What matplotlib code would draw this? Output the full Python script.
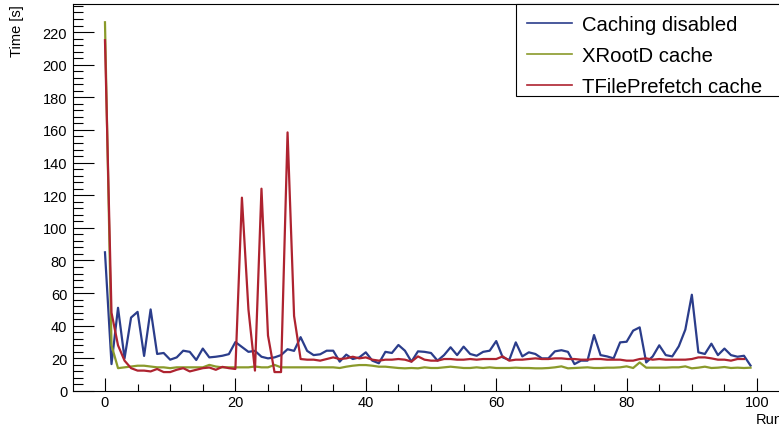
import matplotlib
matplotlib.use("Agg")
import matplotlib.pyplot as plt
from matplotlib.ticker import MultipleLocator
from matplotlib.patches import Rectangle

plt.rcParams['font.family'] = ['Liberation Sans', 'DejaVu Sans']

# time per run [s]
no_cache = [85, 16.5, 51, 20, 45, 48.5, 21.5, 50, 22.7, 23.3,
            19.2, 20.6, 24.7, 24, 19, 26, 20.6, 21, 21.6, 22.6,
            30, 27, 24, 24.6, 21, 20, 20.6, 22, 25.6, 24.6,
            33, 24.6, 22, 22.5, 24.7, 24.7, 18, 22.3, 19.6, 20.6,
            23.7, 18.6, 17, 24, 23.3, 28.2, 24.7, 18, 24.3, 24,
            23.3, 18.6, 22, 26.8, 22, 27.2, 22.7, 21.6, 24, 24.7,
            30.6, 20.6, 19, 29.8, 21.2, 23.7, 22.7, 20, 20, 24.3,
            25, 24, 16.5, 18.6, 18.6, 34.3, 22, 21.2, 20, 29.8,
            30.2, 37, 39, 17.5, 21.2, 28, 22, 21.2, 27.4, 37.6,
            59, 23.7, 22.7, 29, 22, 26, 22, 21, 21.6, 15.6]

xrootd = [226, 28, 14, 14.5, 15, 15.5, 15.5, 15, 14.5, 14.5,
          14, 14.5, 14.5, 14.5, 14.5, 14.5, 16, 15, 14.5, 14.5,
          14.5, 14.5, 14.5, 15, 14.5, 14.5, 16, 14.5, 14.5, 14.5,
          14.5, 14.5, 14.5, 14.5, 14.5, 14.5, 14.1, 14.9, 15.5, 15.9,
          15.9, 15.5, 14.9, 14.9, 14.5, 14.1, 13.9, 14.1, 13.9, 14.5,
          14.1, 14.1, 14.5, 14.9, 14.5, 14.1, 14.1, 14.5, 14.1, 14.5,
          14.1, 14.1, 14.1, 14.3, 14.1, 14.1, 13.9, 13.9, 14.1, 14.5,
          15.1, 13.9, 14.1, 14.3, 14.5, 14.1, 14.1, 14.3, 14.3, 14.5,
          15.1, 14.1, 17.5, 14.3, 14.3, 14.3, 14.3, 14.5, 14.5, 15.1,
          13.9, 14.3, 14.9, 14.1, 14.3, 14.7, 14.1, 14.3, 14.1, 14.3]

prefetch = [215, 48, 28, 18.6, 14, 12.5, 12.5, 12, 13.5, 11.6,
            11.6, 13, 14, 12, 13, 14, 14.4, 13, 14.8, 14,
            13.5, 118.5, 50, 12.5, 124, 34, 11.6, 11.6, 158.5, 46,
            19.6, 19.2, 19.2, 18.6, 19.6, 20.6, 19.6, 20, 21, 20,
            20.6, 19.2, 18.6, 19.2, 19.2, 19.6, 19.2, 18, 21.2, 19.2,
            18.6, 18.6, 19.6, 19.6, 19.2, 19.2, 19.6, 19.2, 19.6, 19.6,
            19.6, 21.2, 18.6, 19.2, 19.2, 19.6, 20, 19.6, 19.6, 20,
            20, 19.6, 19.6, 19.2, 19.2, 19.6, 19.6, 19.2, 19.2, 19.2,
            18.6, 18.6, 19.6, 20, 19.2, 19.6, 19.2, 19.2, 19.2, 19.2,
            19.6, 20.6, 20.6, 20, 19.2, 19.2, 18.6, 19.6, 19.6]

labels = ["Caching disabled", "XRootD cache", "TFilePrefetch cache"]
colors = ["#2b3d8b", "#8a9a2b", "#ae2330"]

W, H = 779, 431
fig = plt.figure(figsize=(W / 100, H / 100), dpi=100)
ax = fig.add_axes([72.7 / W, 39 / H, 710.1 / W, 387 / H])

lines = []
for ys, lab, col in zip([no_cache, xrootd, prefetch], labels, colors):
    ln, = ax.plot(range(len(ys)), ys, color=col, lw=1.6, label=lab)
    lines.append(ln)

ax.set_xlim(-4.95, 103.95)
ax.set_ylim(0, 237.2)

ax.xaxis.set_major_locator(MultipleLocator(20))
ax.xaxis.set_minor_locator(MultipleLocator(5))
ax.yaxis.set_major_locator(MultipleLocator(20))
ax.yaxis.set_minor_locator(MultipleLocator(4))

ax.tick_params(axis='x', which='major', direction='in', length=9.5, width=0.8, labelsize=10.5, pad=3)
ax.tick_params(axis='x', which='minor', direction='in', length=5, width=0.8)
ax.tick_params(axis='y', which='major', direction='in', length=15, width=0.8, labelsize=10.5, pad=4)
ax.tick_params(axis='y', which='minor', direction='in', length=7.5, width=0.8)
for s in ax.spines.values():
    s.set_linewidth(0.8)

ax.set_ylabel("Time [s]", fontsize=10.5, loc='top', labelpad=13)
ax.set_xlabel("Run", fontsize=10.5, loc='right', labelpad=2)

# legend box (runs off the right edge, like the original)
ax.add_patch(Rectangle((516 / W, 1 - 97 / H), 300 / W, 92 / H,
                       transform=fig.transFigure, clip_on=False,
                       facecolor='white', edgecolor='black', lw=0.8, zorder=5))
leg = ax.legend(handles=lines, loc='upper left', bbox_to_anchor=(516 / W, 1 - 5 / H),
                bbox_transform=fig.transFigure, frameon=False, fontsize=14.6,
                handlelength=2.2, handletextpad=0.5, borderpad=0.55,
                borderaxespad=0, labelspacing=0.6)
leg.set_zorder(6)
for h in leg.legend_handles:
    h.set_linewidth(1.2)

fig.savefig("out.png", dpi=100)
